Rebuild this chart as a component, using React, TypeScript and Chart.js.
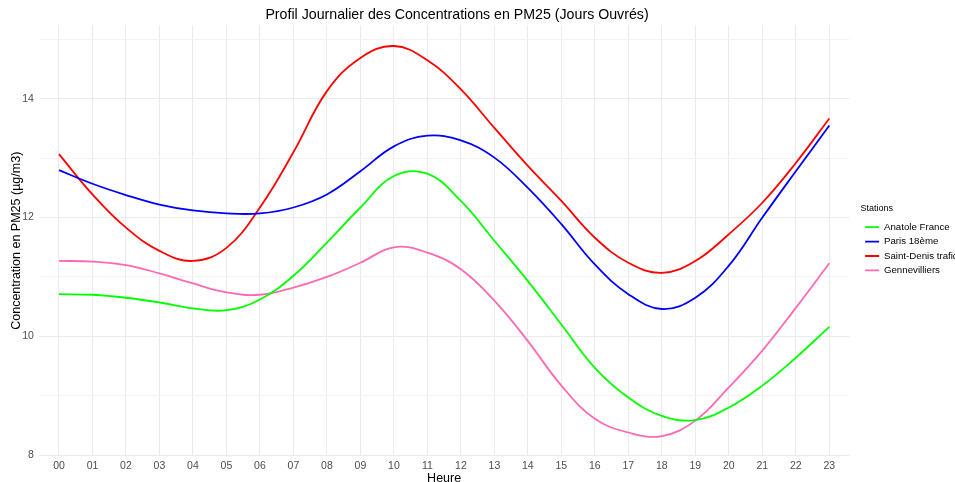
import { useEffect, useRef } from "react";
import { Chart, registerables } from "chart.js";

Chart.register(...registerables);

const hours = ["00","01","02","03","04","05","06","07","08","09","10","11","12","13","14","15","16","17","18","19","20","21","22","23"];
const anatoleFrance = [10.71, 10.70, 10.65, 10.57, 10.47, 10.44, 10.62, 11.02, 11.58, 12.17, 12.70, 12.74, 12.28, 11.61, 10.93, 10.20, 9.47, 8.97, 8.66, 8.59, 8.80, 9.17, 9.64, 10.16];
const paris18 = [12.80, 12.57, 12.38, 12.22, 12.12, 12.07, 12.07, 12.17, 12.39, 12.78, 13.20, 13.38, 13.30, 13.01, 12.50, 11.89, 11.21, 10.71, 10.46, 10.65, 11.19, 12.00, 12.78, 13.55];
const saintDenis = [13.07, 12.39, 11.83, 11.44, 11.27, 11.49, 12.17, 13.10, 14.13, 14.69, 14.89, 14.65, 14.16, 13.51, 12.87, 12.28, 11.66, 11.24, 11.07, 11.27, 11.72, 12.25, 12.92, 13.67];
const gennevilliers = [11.27, 11.26, 11.20, 11.06, 10.89, 10.74, 10.70, 10.82, 11.00, 11.24, 11.50, 11.41, 11.13, 10.60, 9.92, 9.17, 8.61, 8.38, 8.32, 8.58, 9.14, 9.76, 10.48, 11.23];
const yTickLabels = ["8", "10", "12", "14"];

const seriesNames = ["Anatole France", "Paris 18ème", "Saint-Denis trafic", "Gennevilliers"];
const seriesColors = ["#00FF00", "#0000FF", "#FF0000", "#FF69B4"];
const seriesValues = [anatoleFrance, paris18, saintDenis, gennevilliers];

const FONT = "'Liberation Sans', Arial, sans-serif";

const nudgePlugin = {
  id: "nudge",
  afterLayout(chart: any) {
    const lg = chart.legend;
    if (lg) {
      lg.left += 11;
      lg.right += 11;
    }
    const t = chart.titleBlock;
    if (t) {
      t.left -= 20.5;
      t.right -= 20.5;
    }
  },
};

export default function App() {
  const ref = useRef<HTMLCanvasElement | null>(null);
  useEffect(() => {
    if (!ref.current) return;
    const chart = new Chart(ref.current, {
      type: "line",
      data: {
        datasets: seriesNames.map((name, k) => ({
          label: name,
          data: seriesValues[k].map((v, i) => ({ x: i, y: v })),
          borderColor: seriesColors[k],
          backgroundColor: seriesColors[k],
          borderWidth: 1.8,
          pointRadius: 0,
          pointHoverRadius: 0,
          tension: 0.4,
          fill: false,
        })),
      },
      plugins: [nudgePlugin],
      options: {
        animation: false,
        responsive: true,
        maintainAspectRatio: false,
        layout: { padding: 0 },
        scales: {
          x: {
            type: "linear",
            min: -0.6,
            max: 23.6,
            border: { display: false },
            grid: { color: "#ebebeb", lineWidth: 1, drawTicks: false },
            ticks: {
              stepSize: 1,
              includeBounds: false,
              autoSkip: false,
              maxRotation: 0,
              padding: 4.75,
              color: "#4d4d4d",
              font: { family: FONT, size: 10.5, lineHeight: 1 },
              callback: (v: any) => hours[Number(v)] ?? "",
            },
            title: {
              display: true,
              text: "Heure",
              color: "#000000",
              font: { family: FONT, size: 12.5, lineHeight: 1 },
              padding: { top: -3.5, bottom: -3.25 },
            },
          },
          y: {
            type: "linear",
            min: 7.98,
            max: 15.24,
            border: { display: false },
            grid: {
              drawTicks: false,
              color: (ctx: any) => (ctx.tick && Math.round(ctx.tick.value) % 2 === 0 ? "#ebebeb" : "#f3f3f3"),
              lineWidth: 1,
            },
            ticks: {
              stepSize: 1,
              includeBounds: false,
              padding: 5,
              color: "#4d4d4d",
              font: { family: FONT, size: 10.5, lineHeight: 1 },
              callback: (v: any) => {
                const s = String(Math.round(Number(v)));
                return yTickLabels.includes(s) && Math.abs(Number(v) - Math.round(Number(v))) < 1e-6 ? s : "";
              },
            },
            title: {
              display: true,
              text: "Concentration en PM25 (µg/m3)",
              color: "#000000",
              font: { family: FONT, size: 12.5, lineHeight: 1 },
              padding: { top: 10.75, bottom: -6.05 },
            },
          },
        },
        plugins: {
          title: {
            display: true,
            text: "Profil Journalier des Concentrations en PM25 (Jours Ouvrés)",
            color: "#000000",
            font: { family: FONT, size: 14.2, weight: "normal", lineHeight: 1.2 },
            padding: { top: 7, bottom: 1.2 },
          },
          legend: {
            display: true,
            position: "right",
            align: "center",
            maxWidth: 105.6,
            title: {
              display: true,
              text: "Stations",
              color: "#000000",
              position: "start",
              font: { family: FONT, size: 9, lineHeight: 1.2 },
              padding: 2.4,
            },
            labels: {
              usePointStyle: true,
              pointStyle: "line",
              pointStyleWidth: 14,
              padding: 4.7,
              color: "#000000",
              font: { family: FONT, size: 9.7 },
            },
          },
          tooltip: { enabled: false },
        },
      },
    } as any);
    return () => chart.destroy();
  }, []);
  return (
    <div style={{ position: "absolute", left: 0, top: 0, width: 955, height: 482, background: "#ffffff" }}>
      <canvas ref={ref} />
    </div>
  );
}
